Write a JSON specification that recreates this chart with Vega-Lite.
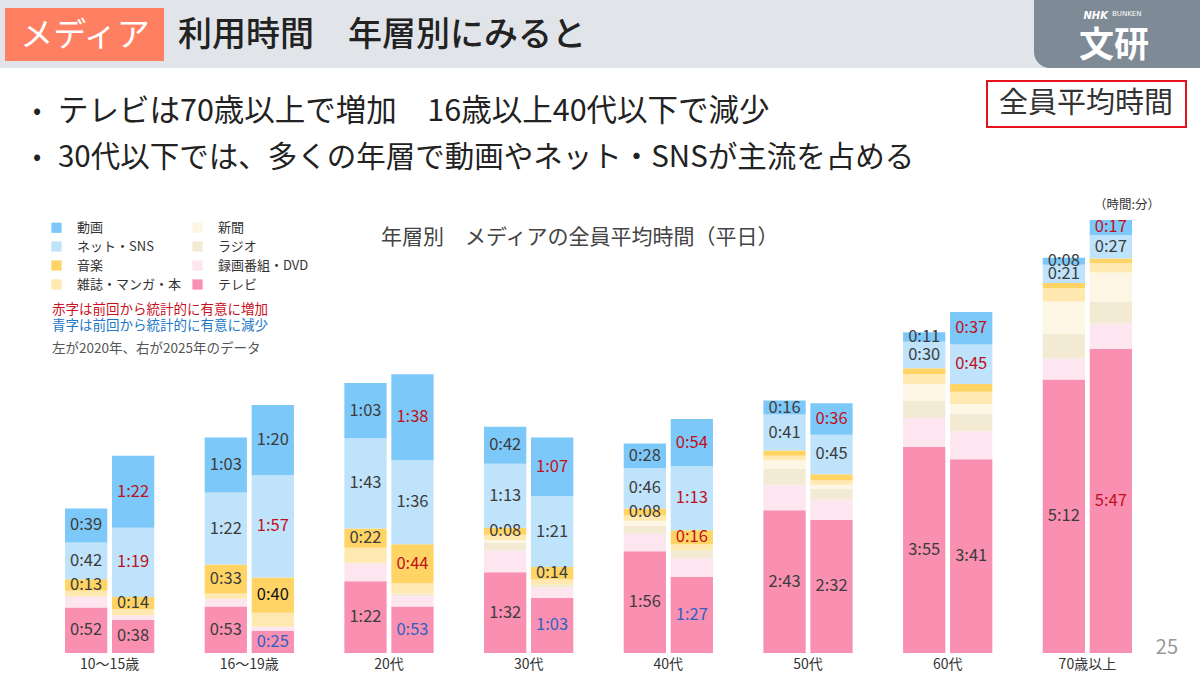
{
  "$schema": "https://vega.github.io/schema/vega-lite/v6.json",
  "width": 1200,
  "height": 653,
  "autosize": {"type": "none"},
  "padding": {"left": 0, "top": 0, "right": 0, "bottom": 23},
  "background": "white",
  "config": {"view": {"stroke": null}, "font": "Noto Sans CJK JP"},
  "datasets": {
    "m": [
      {"a":"10～15歳","yr":"2020","m":"テレビ","v":52,"l":"0:52"},
      {"a":"10～15歳","yr":"2020","m":"録画番組・DVD","v":12},
      {"a":"10～15歳","yr":"2020","m":"ラジオ","v":1},
      {"a":"10～15歳","yr":"2020","m":"雑誌・マンガ・本","v":6},
      {"a":"10～15歳","yr":"2020","m":"音楽","v":13,"l":"0:13"},
      {"a":"10～15歳","yr":"2020","m":"ネット・SNS","v":42,"l":"0:42"},
      {"a":"10～15歳","yr":"2020","m":"動画","v":39,"l":"0:39"},
      {"a":"10～15歳","yr":"2025","m":"テレビ","v":38,"l":"0:38"},
      {"a":"10～15歳","yr":"2025","m":"録画番組・DVD","v":5},
      {"a":"10～15歳","yr":"2025","m":"雑誌・マンガ・本","v":7},
      {"a":"10～15歳","yr":"2025","m":"音楽","v":14,"l":"0:14"},
      {"a":"10～15歳","yr":"2025","m":"ネット・SNS","v":79,"l":"1:19","s":"u"},
      {"a":"10～15歳","yr":"2025","m":"動画","v":82,"l":"1:22","s":"u"},
      {"a":"16～19歳","yr":"2020","m":"テレビ","v":53,"l":"0:53"},
      {"a":"16～19歳","yr":"2020","m":"録画番組・DVD","v":9},
      {"a":"16～19歳","yr":"2020","m":"雑誌・マンガ・本","v":6},
      {"a":"16～19歳","yr":"2020","m":"音楽","v":33,"l":"0:33"},
      {"a":"16～19歳","yr":"2020","m":"ネット・SNS","v":82,"l":"1:22"},
      {"a":"16～19歳","yr":"2020","m":"動画","v":63,"l":"1:03"},
      {"a":"16～19歳","yr":"2025","m":"テレビ","v":25,"l":"0:25","s":"d"},
      {"a":"16～19歳","yr":"2025","m":"録画番組・DVD","v":5},
      {"a":"16～19歳","yr":"2025","m":"雑誌・マンガ・本","v":16},
      {"a":"16～19歳","yr":"2025","m":"音楽","v":40,"l":"0:40","s":"k"},
      {"a":"16～19歳","yr":"2025","m":"ネット・SNS","v":117,"l":"1:57","s":"u"},
      {"a":"16～19歳","yr":"2025","m":"動画","v":80,"l":"1:20"},
      {"a":"20代","yr":"2020","m":"テレビ","v":82,"l":"1:22"},
      {"a":"20代","yr":"2020","m":"録画番組・DVD","v":20},
      {"a":"20代","yr":"2020","m":"ラジオ","v":1},
      {"a":"20代","yr":"2020","m":"雑誌・マンガ・本","v":17},
      {"a":"20代","yr":"2020","m":"音楽","v":22,"l":"0:22"},
      {"a":"20代","yr":"2020","m":"ネット・SNS","v":103,"l":"1:43"},
      {"a":"20代","yr":"2020","m":"動画","v":63,"l":"1:03"},
      {"a":"20代","yr":"2025","m":"テレビ","v":53,"l":"0:53","s":"d"},
      {"a":"20代","yr":"2025","m":"録画番組・DVD","v":12},
      {"a":"20代","yr":"2025","m":"ラジオ","v":3},
      {"a":"20代","yr":"2025","m":"雑誌・マンガ・本","v":12},
      {"a":"20代","yr":"2025","m":"音楽","v":44,"l":"0:44","s":"u"},
      {"a":"20代","yr":"2025","m":"ネット・SNS","v":96,"l":"1:36"},
      {"a":"20代","yr":"2025","m":"動画","v":98,"l":"1:38","s":"u"},
      {"a":"30代","yr":"2020","m":"テレビ","v":92,"l":"1:32"},
      {"a":"30代","yr":"2020","m":"録画番組・DVD","v":25},
      {"a":"30代","yr":"2020","m":"ラジオ","v":9},
      {"a":"30代","yr":"2020","m":"新聞","v":3},
      {"a":"30代","yr":"2020","m":"雑誌・マンガ・本","v":6},
      {"a":"30代","yr":"2020","m":"音楽","v":8,"l":"0:08"},
      {"a":"30代","yr":"2020","m":"ネット・SNS","v":73,"l":"1:13"},
      {"a":"30代","yr":"2020","m":"動画","v":42,"l":"0:42"},
      {"a":"30代","yr":"2025","m":"テレビ","v":63,"l":"1:03","s":"d"},
      {"a":"30代","yr":"2025","m":"録画番組・DVD","v":12},
      {"a":"30代","yr":"2025","m":"ラジオ","v":3},
      {"a":"30代","yr":"2025","m":"雑誌・マンガ・本","v":6},
      {"a":"30代","yr":"2025","m":"音楽","v":14,"l":"0:14"},
      {"a":"30代","yr":"2025","m":"ネット・SNS","v":81,"l":"1:21"},
      {"a":"30代","yr":"2025","m":"動画","v":67,"l":"1:07","s":"u"},
      {"a":"40代","yr":"2020","m":"テレビ","v":116,"l":"1:56"},
      {"a":"40代","yr":"2020","m":"録画番組・DVD","v":20},
      {"a":"40代","yr":"2020","m":"ラジオ","v":9},
      {"a":"40代","yr":"2020","m":"新聞","v":6},
      {"a":"40代","yr":"2020","m":"雑誌・マンガ・本","v":6},
      {"a":"40代","yr":"2020","m":"音楽","v":8,"l":"0:08"},
      {"a":"40代","yr":"2020","m":"ネット・SNS","v":46,"l":"0:46"},
      {"a":"40代","yr":"2020","m":"動画","v":28,"l":"0:28"},
      {"a":"40代","yr":"2025","m":"テレビ","v":87,"l":"1:27","s":"d"},
      {"a":"40代","yr":"2025","m":"録画番組・DVD","v":21},
      {"a":"40代","yr":"2025","m":"ラジオ","v":9},
      {"a":"40代","yr":"2025","m":"雑誌・マンガ・本","v":7},
      {"a":"40代","yr":"2025","m":"音楽","v":16,"l":"0:16","s":"u"},
      {"a":"40代","yr":"2025","m":"ネット・SNS","v":73,"l":"1:13","s":"u"},
      {"a":"40代","yr":"2025","m":"動画","v":54,"l":"0:54","s":"u"},
      {"a":"50代","yr":"2020","m":"テレビ","v":163,"l":"2:43"},
      {"a":"50代","yr":"2020","m":"録画番組・DVD","v":29},
      {"a":"50代","yr":"2020","m":"ラジオ","v":18},
      {"a":"50代","yr":"2020","m":"新聞","v":10},
      {"a":"50代","yr":"2020","m":"雑誌・マンガ・本","v":5},
      {"a":"50代","yr":"2020","m":"音楽","v":6},
      {"a":"50代","yr":"2020","m":"ネット・SNS","v":41,"l":"0:41"},
      {"a":"50代","yr":"2020","m":"動画","v":16,"l":"0:16"},
      {"a":"50代","yr":"2025","m":"テレビ","v":152,"l":"2:32"},
      {"a":"50代","yr":"2025","m":"録画番組・DVD","v":23},
      {"a":"50代","yr":"2025","m":"ラジオ","v":12},
      {"a":"50代","yr":"2025","m":"新聞","v":5},
      {"a":"50代","yr":"2025","m":"雑誌・マンガ・本","v":5},
      {"a":"50代","yr":"2025","m":"音楽","v":7},
      {"a":"50代","yr":"2025","m":"ネット・SNS","v":45,"l":"0:45"},
      {"a":"50代","yr":"2025","m":"動画","v":36,"l":"0:36","s":"u"},
      {"a":"60代","yr":"2020","m":"テレビ","v":235,"l":"3:55"},
      {"a":"60代","yr":"2020","m":"録画番組・DVD","v":33},
      {"a":"60代","yr":"2020","m":"ラジオ","v":20},
      {"a":"60代","yr":"2020","m":"新聞","v":19},
      {"a":"60代","yr":"2020","m":"雑誌・マンガ・本","v":11},
      {"a":"60代","yr":"2020","m":"音楽","v":7},
      {"a":"60代","yr":"2020","m":"ネット・SNS","v":30,"l":"0:30"},
      {"a":"60代","yr":"2020","m":"動画","v":11,"l":"0:11"},
      {"a":"60代","yr":"2025","m":"テレビ","v":221,"l":"3:41"},
      {"a":"60代","yr":"2025","m":"録画番組・DVD","v":32},
      {"a":"60代","yr":"2025","m":"ラジオ","v":20},
      {"a":"60代","yr":"2025","m":"新聞","v":11},
      {"a":"60代","yr":"2025","m":"雑誌・マンガ・本","v":14},
      {"a":"60代","yr":"2025","m":"音楽","v":9},
      {"a":"60代","yr":"2025","m":"ネット・SNS","v":45,"l":"0:45","s":"u"},
      {"a":"60代","yr":"2025","m":"動画","v":37,"l":"0:37","s":"u"},
      {"a":"70歳以上","yr":"2020","m":"テレビ","v":312,"l":"5:12"},
      {"a":"70歳以上","yr":"2020","m":"録画番組・DVD","v":24},
      {"a":"70歳以上","yr":"2020","m":"ラジオ","v":28},
      {"a":"70歳以上","yr":"2020","m":"新聞","v":37},
      {"a":"70歳以上","yr":"2020","m":"雑誌・マンガ・本","v":15},
      {"a":"70歳以上","yr":"2020","m":"音楽","v":6},
      {"a":"70歳以上","yr":"2020","m":"ネット・SNS","v":21,"l":"0:21"},
      {"a":"70歳以上","yr":"2020","m":"動画","v":8,"l":"0:08"},
      {"a":"70歳以上","yr":"2025","m":"テレビ","v":347,"l":"5:47","s":"u"},
      {"a":"70歳以上","yr":"2025","m":"録画番組・DVD","v":29},
      {"a":"70歳以上","yr":"2025","m":"ラジオ","v":25},
      {"a":"70歳以上","yr":"2025","m":"新聞","v":33},
      {"a":"70歳以上","yr":"2025","m":"雑誌・マンガ・本","v":11},
      {"a":"70歳以上","yr":"2025","m":"音楽","v":5},
      {"a":"70歳以上","yr":"2025","m":"ネット・SNS","v":27,"l":"0:27"},
      {"a":"70歳以上","yr":"2025","m":"動画","v":17,"l":"0:17","s":"u"}
    ]
  },
  "layer": [
    {"data": {"values": [{}]}, "mark": {"type": "rect", "color": "#e1e4e8"},
     "encoding": {"x": {"value": 0}, "x2": {"value": 1200}, "y": {"value": 0}, "y2": {"value": 68}}},
    {"data": {"values": [{}]}, "mark": {"type": "rect", "color": "#7e8a95", "cornerRadiusBottomLeft": 16},
     "encoding": {"x": {"value": 1034}, "x2": {"value": 1200}, "y": {"value": 0}, "y2": {"value": 68}}},
    {"data": {"values": [{}]}, "mark": {"type": "rect", "color": "#ff7f62"},
     "encoding": {"x": {"value": 5}, "x2": {"value": 164}, "y": {"value": 8}, "y2": {"value": 61}}},
    {"data": {"values": [{}]}, "mark": {"type": "rect", "fill": "white", "stroke": "#e3141c", "strokeWidth": 2},
     "encoding": {"x": {"value": 987}, "x2": {"value": 1186}, "y": {"value": 81}, "y2": {"value": 127}}},
    {"data": {"values": [{}]}, "mark": {"type": "text", "text": "メディア", "align": "center", "baseline": "middle", "fontSize": 33, "color": "white"},
     "encoding": {"x": {"value": 85}, "y": {"value": 36}}},
    {"data": {"values": [{}]}, "mark": {"type": "text", "text": "利用時間　年層別にみると", "align": "left", "baseline": "middle", "fontSize": 34, "fontWeight": 500, "color": "#222222"},
     "encoding": {"x": {"value": 178}, "y": {"value": 36}}},
    {"data": {"values": [{}]}, "mark": {"type": "text", "text": "NHK", "align": "right", "baseline": "middle", "fontSize": 10, "fontWeight": "bold", "fontStyle": "italic", "color": "white", "font": "DejaVu Sans"},
     "encoding": {"x": {"value": 1108}, "y": {"value": 16}}},
    {"data": {"values": [{}]}, "mark": {"type": "text", "text": "BUNKEN", "align": "left", "baseline": "middle", "fontSize": 7, "color": "white", "font": "DejaVu Sans"},
     "encoding": {"x": {"value": 1112}, "y": {"value": 14}}},
    {"data": {"values": [{}]}, "mark": {"type": "text", "text": "文研", "align": "center", "baseline": "middle", "fontSize": 35, "fontWeight": "bold", "color": "white"},
     "encoding": {"x": {"value": 1114}, "y": {"value": 46}}},
    {"data": {"values": [{}]}, "mark": {"type": "text", "text": "全員平均時間", "align": "center", "baseline": "middle", "fontSize": 29, "color": "#333333"},
     "encoding": {"x": {"value": 1086}, "y": {"value": 104}}},
    {"data": {"values": [{}]}, "mark": {"type": "text", "text": "•", "align": "center", "baseline": "middle", "fontSize": 24, "color": "#222222"},
     "encoding": {"x": {"value": 37}, "y": {"value": 112}}},
    {"data": {"values": [{}]}, "mark": {"type": "text", "text": "•", "align": "center", "baseline": "middle", "fontSize": 24, "color": "#222222"},
     "encoding": {"x": {"value": 37}, "y": {"value": 158}}},
    {"data": {"values": [{}]}, "mark": {"type": "text", "text": "テレビは70歳以上で増加　16歳以上40代以下で減少", "align": "left", "baseline": "middle", "fontSize": 30.5, "color": "#222222"},
     "encoding": {"x": {"value": 58}, "y": {"value": 112}}},
    {"data": {"values": [{}]}, "mark": {"type": "text", "text": "30代以下では、多くの年層で動画やネット・SNSが主流を占める", "align": "left", "baseline": "middle", "fontSize": 29.5, "color": "#222222"},
     "encoding": {"x": {"value": 58}, "y": {"value": 158}}},
    {"data": {"values": [{}]}, "mark": {"type": "text", "text": "年層別　メディアの全員平均時間（平日）", "align": "left", "baseline": "middle", "fontSize": 21, "color": "#444444"},
     "encoding": {"x": {"value": 381}, "y": {"value": 238}}},
    {"data": {"values": [{}]}, "mark": {"type": "text", "text": "（時間:分）", "align": "right", "baseline": "middle", "fontSize": 12.5, "color": "#333333"},
     "encoding": {"x": {"value": 1160}, "y": {"value": 205}}},
    {"data": {"values": [{}]}, "mark": {"type": "text", "text": "赤字は前回から統計的に有意に増加", "align": "left", "baseline": "middle", "fontSize": 13.5, "color": "#c8101c"},
     "encoding": {"x": {"value": 52}, "y": {"value": 310}}},
    {"data": {"values": [{}]}, "mark": {"type": "text", "text": "青字は前回から統計的に有意に減少", "align": "left", "baseline": "middle", "fontSize": 13.5, "color": "#2377c9"},
     "encoding": {"x": {"value": 52}, "y": {"value": 326}}},
    {"data": {"values": [{}]}, "mark": {"type": "text", "text": "左が2020年、右が2025年のデータ", "align": "left", "baseline": "middle", "fontSize": 13.5, "color": "#555555"},
     "encoding": {"x": {"value": 52}, "y": {"value": 349}}},
    {"data": {"values": [{}]}, "mark": {"type": "text", "text": "25", "align": "right", "baseline": "middle", "fontSize": 20, "color": "#999999"},
     "encoding": {"x": {"value": 1178}, "y": {"value": 648}}},
    {
      "data": {"name": "m"},
      "transform": [
        {"calculate": "indexof(['テレビ','録画番組・DVD','ラジオ','新聞','雑誌・マンガ・本','音楽','ネット・SNS','動画'], datum.m)", "as": "ord"},
        {"stack": "v", "groupby": ["a", "yr"], "sort": [{"field": "ord", "order": "ascending"}], "as": ["y0", "y1"]},
        {"calculate": "(datum.y0 + datum.y1) / 2", "as": "mid"}
      ],
      "encoding": {
        "x": {"field": "a", "type": "nominal", "title": null,
              "sort": ["10～15歳","16～19歳","20代","30代","40代","50代","60代","70歳以上"],
              "scale": {"range": [65, 1132], "paddingInner": 0.361, "paddingOuter": 0},
              "axis": {"domain": false, "ticks": false, "labelFontSize": 14, "labelColor": "#333333", "labelPadding": 4, "labelAngle": 0}},
        "xOffset": {"field": "yr", "type": "nominal", "scale": {"paddingInner": 0.1, "paddingOuter": 0}}
      },
      "layer": [
        {
          "mark": {"type": "bar"},
          "encoding": {
            "y": {"field": "y0", "type": "quantitative", "scale": {"domain": [0, 745], "nice": false}, "axis": null},
            "y2": {"field": "y1"},
            "color": {"field": "m", "type": "nominal",
              "scale": {
                "domain": ["動画","ネット・SNS","音楽","雑誌・マンガ・本","新聞","ラジオ","録画番組・DVD","テレビ"],
                "range": ["#7cc8f8","#bfe3fb","#ffd465","#ffe9b0","#fef6e4","#f3ead4","#fde6ef","#f990b2"]
              },
              "legend": {"orient": "none", "legendX": 50, "legendY": 221, "columns": 2, "title": null,
                "symbolType": "square", "symbolSize": 105, "symbolStrokeWidth": 0, "labelFontSize": 13,
                "labelColor": "#333333", "labelOffset": 14, "rowPadding": 5, "columnPadding": 9, "padding": 0}
            }
          }
        },
        {
          "transform": [{"filter": "datum.l"}],
          "mark": {"type": "text", "align": "center", "baseline": "middle", "fontSize": 16.5},
          "encoding": {
            "y": {"field": "mid", "type": "quantitative"},
            "text": {"field": "l"},
            "color": {"condition": [
              {"test": "datum.s === 'u'", "value": "#c0101c"},
              {"test": "datum.s === 'd'", "value": "#2f62c0"},
              {"test": "datum.s === 'k'", "value": "#111111"}
            ], "value": "#3c3c3c"}
          }
        }
      ]
    }
  ]
}
